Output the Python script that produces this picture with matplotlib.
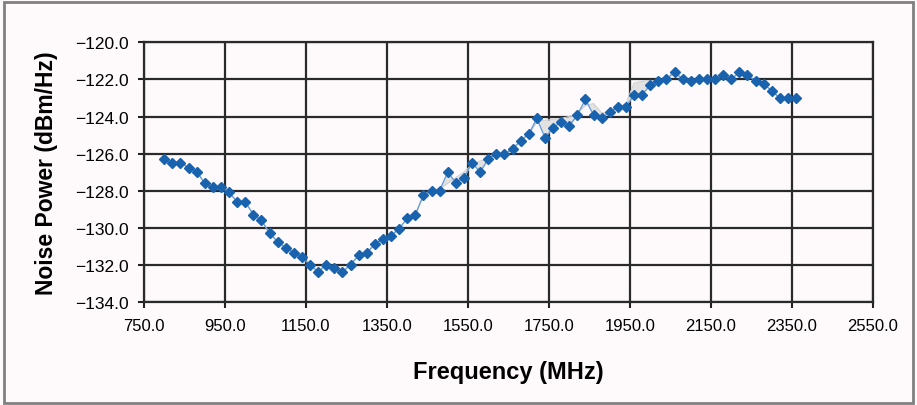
import matplotlib.pyplot as plt
from matplotlib.patches import Rectangle

plt.rcParams['font.family'] = ['Liberation Sans', 'DejaVu Sans']

# measured noise power, one point every 20 MHz
freq = [800 + 20 * i for i in range(79)]
noise = [-126.3, -126.5, -126.5, -126.76, -126.97, -127.6, -127.8, -127.8, -128.1, -128.6,
         -128.6, -129.3, -129.6, -130.3, -130.76, -131.1, -131.35, -131.6, -132.0, -132.4,
         -132.0, -132.16, -132.4, -132.0, -131.5, -131.35, -130.9, -130.6, -130.45, -130.05,
         -129.5, -129.3, -128.25, -128.0, -128.0, -127.0, -127.57, -127.3, -126.5, -127.0,
         -126.3, -126.0, -126.0, -125.77, -125.3, -124.96, -124.1, -125.14, -124.6, -124.3,
         -124.5, -123.93, -123.06, -123.93, -124.1, -123.75, -123.5, -123.46, -122.83, -122.83,
         -122.3, -122.08, -121.98, -121.6, -121.98, -122.08, -121.98, -121.98, -122.0, -121.77,
         -122.0, -121.6, -121.77, -122.07, -122.25, -122.6, -123.0, -123.0, -123.0]

# smoothed reference trace (light grey, shaded against the measurement)
trend = [-126.3, -126.5, -126.5, -126.76, -126.97, -127.6, -127.8, -127.8, -128.1, -128.6,
         -128.6, -129.3, -129.6, -130.3, -130.76, -131.1, -131.35, -131.6, -132.0, -132.4,
         -132.0, -132.16, -132.4, -132.0, -131.5, -131.35, -130.9, -130.6, -130.45, -130.05,
         -129.5, -129.3, -128.25, -128.0, -127.9, -127.6, -127.3, -127.0, -126.6, -126.4,
         -126.3, -126.0, -126.0, -125.77, -125.3, -124.96, -124.3, -124.2, -124.15, -124.1,
         -124.0, -123.8, -123.4, -123.3, -123.8, -123.75, -123.5, -123.3, -122.2, -122.1,
         -122.05, -122.08, -121.98, -121.6, -121.98, -122.08, -121.98, -121.98, -122.0, -121.77,
         -122.0, -121.6, -121.77, -122.07, -122.25, -122.6, -123.0, -123.0, -123.0]

xticks = [750 + 200 * i for i in range(10)]
yticks = [-134 + 2 * i for i in range(8)]

bg = '#fefafc'
fig = plt.figure(figsize=(9.17, 4.06), dpi=100, facecolor=bg)
ax = fig.add_axes([0.157, 0.2544, 0.795, 0.6386], facecolor=bg)

ax.fill_between(freq, noise, trend, color='#e2e2e2', lw=0)
ax.plot(freq, trend, color='#cfcfcf', lw=0.8)
ax.plot(freq, noise, color='#6aa0d6', lw=1.0, marker='D', markersize=4.8,
        markerfacecolor='#1862ae', markeredgecolor='#1862ae')

ax.set_xlim(750, 2550)
ax.set_ylim(-134, -120)
ax.set_xticks(xticks)
ax.set_yticks(yticks)
ax.set_xticklabels([f'{v:.1f}' for v in xticks])
ax.set_yticklabels([f'{v:.1f}'.replace('-', '\u2212') for v in yticks])
ax.tick_params(axis='x', labelsize=12, length=4, width=1.5, color='#222222', pad=8)
ax.tick_params(axis='y', labelsize=12.5, length=4, width=1.5, color='#222222', pad=7)

ax.grid(True, color='#2a2a2a', lw=1.6)
ax.set_axisbelow(True)
for s in ax.spines.values():
    s.set_color('#2a2a2a')
    s.set_linewidth(1.6)

ax.set_xlabel('Frequency (MHz)', fontsize=17, fontweight='bold', labelpad=19)
ax.set_ylabel('Noise Power (dBm/Hz)', fontsize=16.5, fontweight='bold', labelpad=12)

fig.patches.append(Rectangle((0.004, 0.005), 0.992, 0.987, transform=fig.transFigure,
                             fill=False, edgecolor='#808080', lw=2.0))

fig.savefig('out.png', dpi=100, facecolor=bg)
